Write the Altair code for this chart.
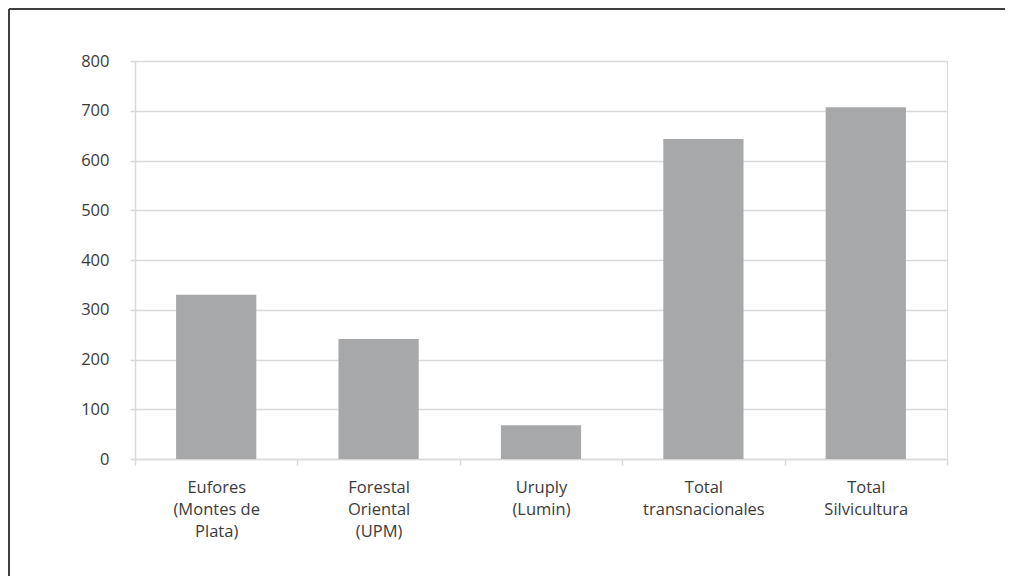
import altair as alt
import pandas as pd

categories = ["Eufores|(Montes de|Plata)", "Forestal|Oriental|(UPM)", "Uruply|(Lumin)",
              "Total|transnacionales", "Total|Silvicultura"]
values = [330, 241, 68, 643, 707]
y_ticks = [0, 100, 200, 300, 400, 500, 600, 700, 800]

df = pd.DataFrame({"cat": categories, "val": values})

FONT = "Open Sans"
TXT = "#3b3b3b"
GRID = "#d9d9d9"

bars = alt.Chart(df).mark_bar(color="#a7a8aa", width=alt.RelativeBandSize(0.494)).encode(
    x=alt.X("cat:N", sort=categories, title=None,
            scale=alt.Scale(paddingInner=0, paddingOuter=0),
            axis=alt.Axis(labelAngle=0, labelExpr="split(datum.label, '|')",
                          labelLineHeight=22, labelPadding=14, labelFontSize=16.5,
                          labelFont=FONT, labelColor=TXT, tickBand="extent",
                          tickSize=6, tickColor=GRID, domainColor=GRID,
                          domainWidth=1.5, tickWidth=1.5, grid=False,
                          labelBaseline="top")),
    y=alt.Y("val:Q", title=None,
            scale=alt.Scale(domain=[0, 800], nice=False),
            axis=alt.Axis(values=y_ticks, labelFontSize=16.5, labelFont=FONT,
                          labelColor=TXT, labelPadding=21, tickSize=5,
                          tickColor=GRID, tickWidth=1.5, domainColor=GRID,
                          domainWidth=1.5, gridColor=GRID, gridWidth=1.5)),
)

frame_top = alt.Chart(df.head(1)).mark_rule(color="#404040", strokeWidth=2, clip=False).encode(
    x=alt.value(-126), x2=alt.value(870), y=alt.value(-52))
frame_left = alt.Chart(df.head(1)).mark_rule(color="#404040", strokeWidth=2, clip=False).encode(
    x=alt.value(-126), y=alt.value(-52), y2=alt.value(515))

chart = alt.layer(bars, frame_top, frame_left).properties(
    width=812, height=398,
    autosize=alt.AutoSizeParams(type="none"),
    padding={"left": 127, "top": 53, "right": 58, "bottom": 117},
).configure_view(stroke=None).configure(background="white")

chart.save("out.html", embed_options={"renderer": "svg", "actions": False})
